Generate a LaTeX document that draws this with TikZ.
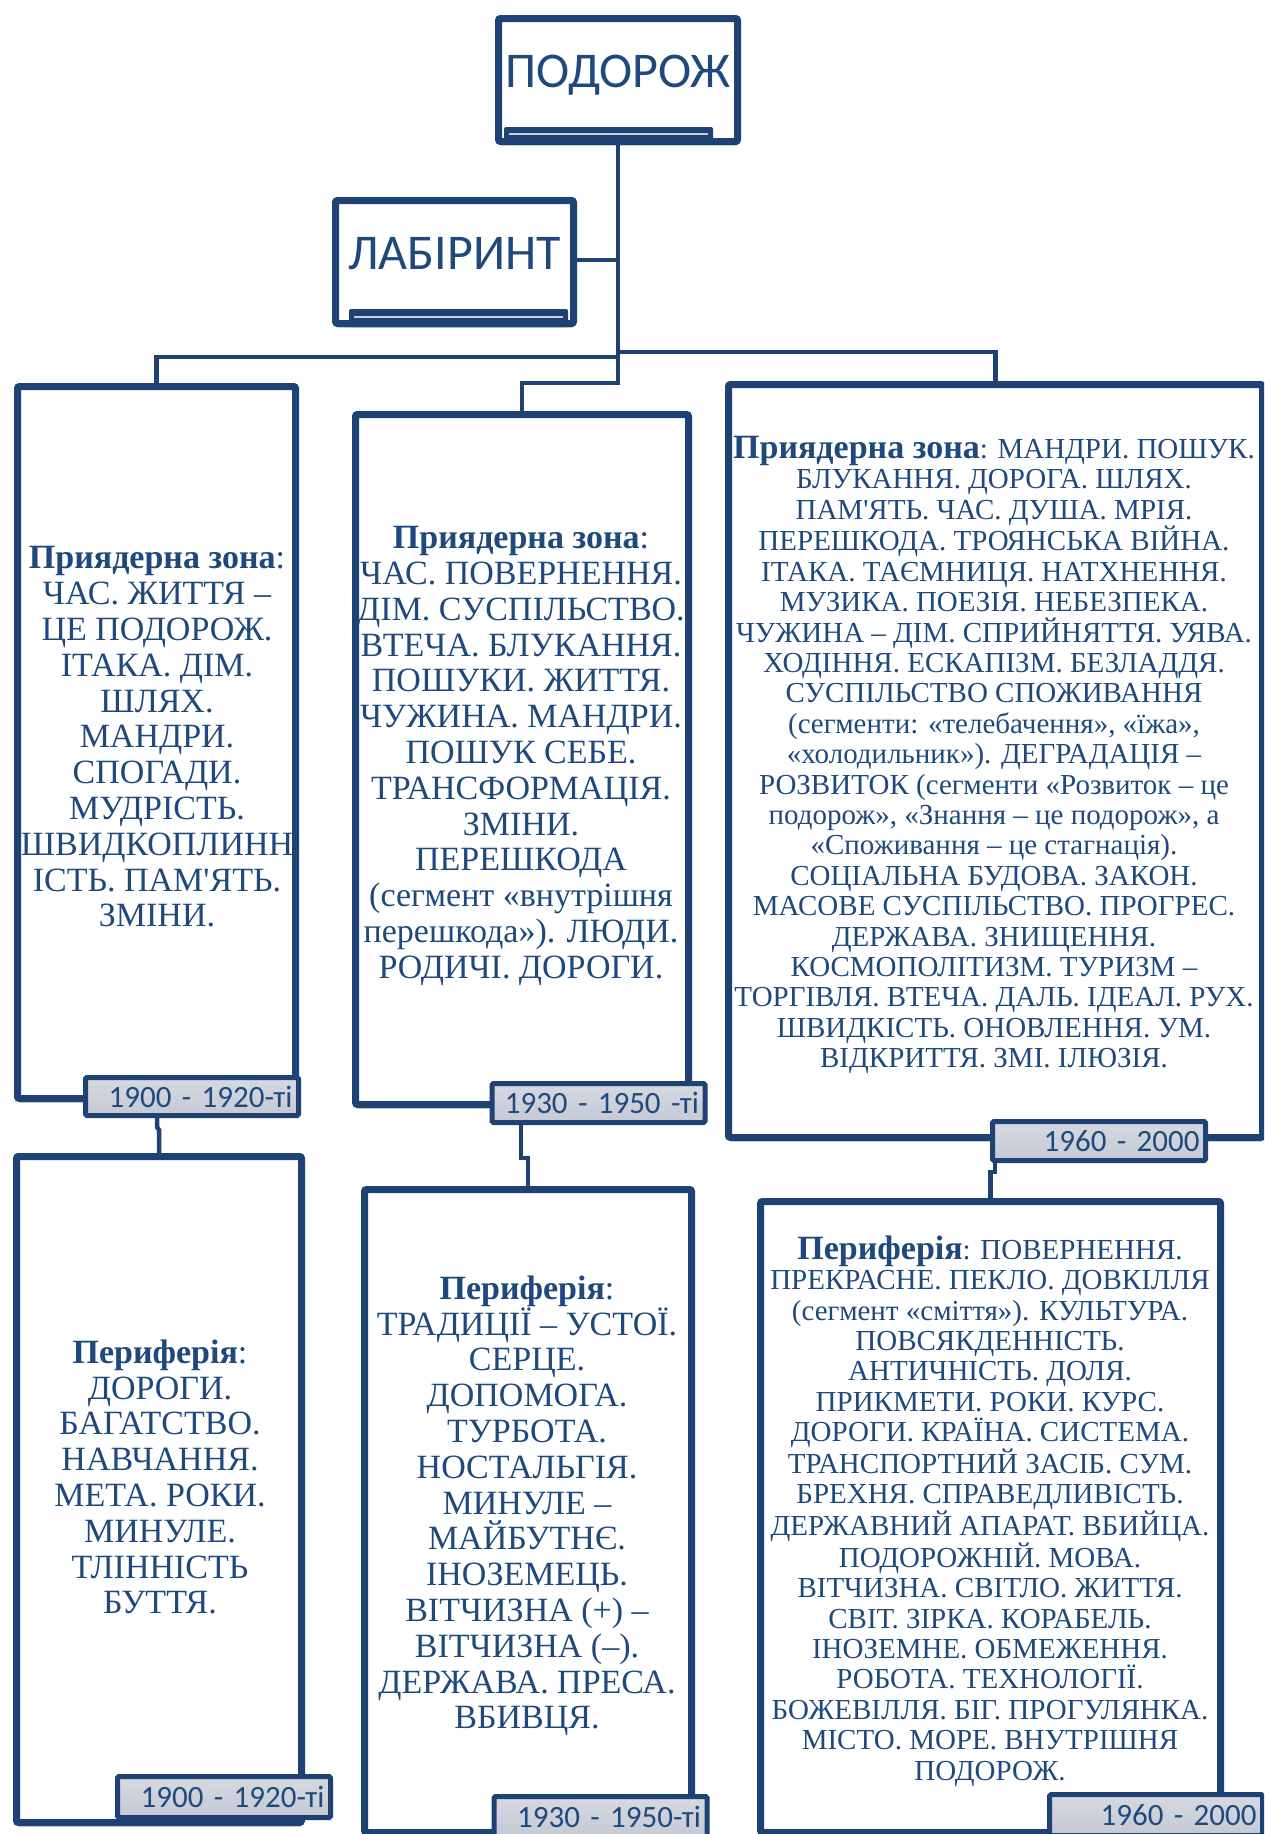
\documentclass[tikz,border=0pt]{standalone}
\usepackage{fontspec}
\setmainfont{Liberation Serif}[Ligatures=TeXOff]
\newfontfamily\calfont{Carlito}
\usetikzlibrary{shadows}
\pgfdeclarelayer{wires}
\pgfsetlayers{wires,main}
\definecolor{dblue}{RGB}{30,66,115}
\definecolor{tblue}{RGB}{31,73,125}
\definecolor{tabtop}{RGB}{214,217,225}
\definecolor{tabbot}{RGB}{196,201,212}
\definecolor{barline}{RGB}{200,206,218}
\newcommand{\hdr}[1]{\textbf{\fontsize{34}{30.4}\selectfont #1}}
\begin{document}
\begin{tikzpicture}[x=1pt,y=-1pt,
  bigbox/.style={draw=dblue, line width=7pt, fill=white, rounded corners=2pt, inner sep=0pt,
    drop shadow={shadow xshift=1pt, shadow yshift=-4pt, opacity=0.22, fill=black}},
  titlebox/.style={bigbox, text=tblue, font=\calfont\fontsize{50}{55}\selectfont,
    text height=36pt, text depth=22pt, minimum width=239pt, minimum height=123pt},
  tabbox/.style={draw=dblue, line width=5pt, top color=tabtop, bottom color=tabbot,
    rounded corners=1.5pt, inner xsep=6pt, inner ysep=0pt, text width=201pt,
    font=\calfont\fontsize{31}{33}\selectfont, text=tblue, align=right},
  wire/.style={draw=dblue, line width=4.5pt},
  bodyA/.style={font=\fontsize{34}{35.8}\selectfont, text=tblue, align=center, inner sep=0pt},
  bodyB/.style={font=\fontsize{29}{30.4}\selectfont, text=tblue, align=center, inner sep=0pt},
]
\useasboundingbox (0,0) rectangle (1264,1834);
\clip (0,0) rectangle (1264,1834);

% helper coordinates for bus levels
\coordinate (yb1) at (0,357);
\coordinate (yb2) at (0,352);
\coordinate (yb3) at (0,383);

% big boxes
\node[titlebox] (top) at (618,80) {ПОДОРОЖ};
\node[titlebox, minimum width=238pt] (lab) at (454.5,262) {ЛАБІРИНТ};
\node[bigbox, minimum width=278pt, minimum height=712pt] (L1) at (156.5,742.5) {};
\node[bigbox, minimum width=333pt, minimum height=690pt] (M1) at (522,759.5) {};
\node[bigbox, minimum width=534pt, minimum height=753pt] (R1) at (995.5,761) {};
\node[bigbox, minimum width=285pt, minimum height=666pt] (L2) at (159,1489.5) {};
\node[bigbox, minimum width=327pt, minimum height=643pt] (M2) at (528,1511) {};
\node[bigbox, minimum width=460pt, minimum height=631pt] (R2) at (990.5,1517) {};

% title bars
\fill[dblue, rounded corners=2pt] (504,127) rectangle (713,143);
\draw[barline, line width=2.5pt] (509,134) -- (708,134);
\fill[dblue, rounded corners=2pt] (349,309) rectangle (568,327);
\draw[barline, line width=2.5pt] (354,317) -- (563,317);

% texts
\node[bodyA] (tx1) at (157,737) {\textbf{Приядерна зона}:\\ЧАС. ЖИТТЯ –\\ЦЕ ПОДОРОЖ.\\ІТАКА. ДІМ.\\ШЛЯХ.\\МАНДРИ.\\СПОГАДИ.\\МУДРІСТЬ.\\ШВИДКОПЛИНН\\ІСТЬ. ПАМ'ЯТЬ.\\ЗМІНИ.};
\node[bodyA] (tx2) at (521,756) {\textbf{Приядерна зона}:\\ЧАС. ПОВЕРНЕННЯ.\\ДІМ. СУСПІЛЬСТВО.\\ВТЕЧА. БЛУКАННЯ.\\ПОШУКИ. ЖИТТЯ.\\ЧУЖИНА. МАНДРИ.\\ПОШУК СЕБЕ.\\ТРАНСФОРМАЦІЯ.\\ЗМІНИ.\\ПЕРЕШКОДА\\(сегмент «внутрішня\\перешкода»). ЛЮДИ.\\РОДИЧІ. ДОРОГИ.};
\node[bodyB] (tx3) at (994,755) {\hdr{Приядерна зона}: МАНДРИ. ПОШУК.\\БЛУКАННЯ. ДОРОГА. ШЛЯХ.\\ПАМ'ЯТЬ. ЧАС. ДУША. МРІЯ.\\ПЕРЕШКОДА. ТРОЯНСЬКА ВІЙНА.\\ІТАКА. ТАЄМНИЦЯ. НАТХНЕННЯ.\\МУЗИКА. ПОЕЗІЯ. НЕБЕЗПЕКА.\\ЧУЖИНА – ДІМ. СПРИЙНЯТТЯ. УЯВА.\\ХОДІННЯ. ЕСКАПІЗМ. БЕЗЛАДДЯ.\\СУСПІЛЬСТВО СПОЖИВАННЯ\\(сегменти: «телебачення», «їжа»,\\«холодильник»). ДЕГРАДАЦІЯ –\\РОЗВИТОК (сегменти «Розвиток – це\\подорож», «Знання – це подорож», а\\«Споживання – це стагнація).\\СОЦІАЛЬНА БУДОВА. ЗАКОН.\\МАСОВЕ СУСПІЛЬСТВО. ПРОГРЕС.\\ДЕРЖАВА. ЗНИЩЕННЯ.\\КОСМОПОЛІТИЗМ. ТУРИЗМ –\\ТОРГІВЛЯ. ВТЕЧА. ДАЛЬ. ІДЕАЛ. РУХ.\\ШВИДКІСТЬ. ОНОВЛЕННЯ. УМ.\\ВІДКРИТТЯ. ЗМІ. ІЛЮЗІЯ.};
\node[bodyA] (tx4) at (160,1477) {\textbf{Периферія}:\\ДОРОГИ.\\БАГАТСТВО.\\НАВЧАННЯ.\\МЕТА. РОКИ.\\МИНУЛЕ.\\ТЛІННІСТЬ\\БУТТЯ.};
\node[bodyA] (tx5) at (527,1506) {\textbf{Периферія}:\\ТРАДИЦІЇ – УСТОЇ.\\СЕРЦЕ.\\ДОПОМОГА.\\ТУРБОТА.\\НОСТАЛЬГІЯ.\\МИНУЛЕ –\\МАЙБУТНЄ.\\ІНОЗЕМЕЦЬ.\\ВІТЧИЗНА (+) –\\ВІТЧИЗНА (–).\\ДЕРЖАВА. ПРЕСА.\\ВБИВЦЯ.};
\node[bodyB] (tx6) at (990,1511) {\hdr{Периферія}: ПОВЕРНЕННЯ.\\ПРЕКРАСНЕ. ПЕКЛО. ДОВКІЛЛЯ\\(сегмент «сміття»). КУЛЬТУРА.\\ПОВСЯКДЕННІСТЬ.\\АНТИЧНІСТЬ. ДОЛЯ.\\ПРИКМЕТИ. РОКИ. КУРС.\\ДОРОГИ. КРАЇНА. СИСТЕМА.\\ТРАНСПОРТНИЙ ЗАСІБ. СУМ.\\БРЕХНЯ. СПРАВЕДЛИВІСТЬ.\\ДЕРЖАВНИЙ АПАРАТ. ВБИЙЦА.\\ПОДОРОЖНІЙ. МОВА.\\ВІТЧИЗНА. СВІТЛО. ЖИТТЯ.\\СВІТ. ЗІРКА. КОРАБЕЛЬ.\\ІНОЗЕМНЕ. ОБМЕЖЕННЯ.\\РОБОТА. ТЕХНОЛОГІЇ.\\БОЖЕВІЛЛЯ. БІГ. ПРОГУЛЯНКА.\\МІСТО. МОРЕ. ВНУТРІШНЯ\\ПОДОРОЖ.};

% date tabs
\node[tabbox, minimum height=38pt] (tL1) at (192,1096.5) {1900 - 1920-ті};
\node[tabbox, minimum height=39pt] (tM1) at (598.5,1103) {1930 - 1950 -ті};
\node[tabbox, minimum height=39pt] (tR1) at (1099,1141) {1960 - 2000};
\node[tabbox, minimum height=41pt] (tL2) at (224,1797) {1900 - 1920-ті};
\node[tabbox, minimum height=41pt] (tM2) at (600.5,1817) {1930 - 1950-ті};
\node[tabbox, minimum height=41pt] (tR2) at (1156,1815) {1960 - 2000};

% connectors, behind the boxes
\begin{pgfonlayer}{wires}
\draw[wire] (top.south) -- (top.south |- yb3) -| (M1.north);
\draw[wire] (top.south |- yb1) -| (L1.north);
\draw[wire] (top.south |- yb2) -| (R1.north);
\draw[wire] ([yshift=2pt]lab.east) -- ([yshift=2pt]lab.east -| top.south);
\draw[wire] ([xshift=-2pt]L2.north |- tL1.south) -- ++(0,9) -- ++(2,3) -- (L2.north);
\draw[wire] ([xshift=-7pt]M2.north |- tM1.south) -- ++(0,33) -| (M2.north);
\draw[wire] ([xshift=4.5pt]R2.north |- tR1.south) -- ++(0,9) -| (R2.north);
\end{pgfonlayer}
\end{tikzpicture}
\end{document}
